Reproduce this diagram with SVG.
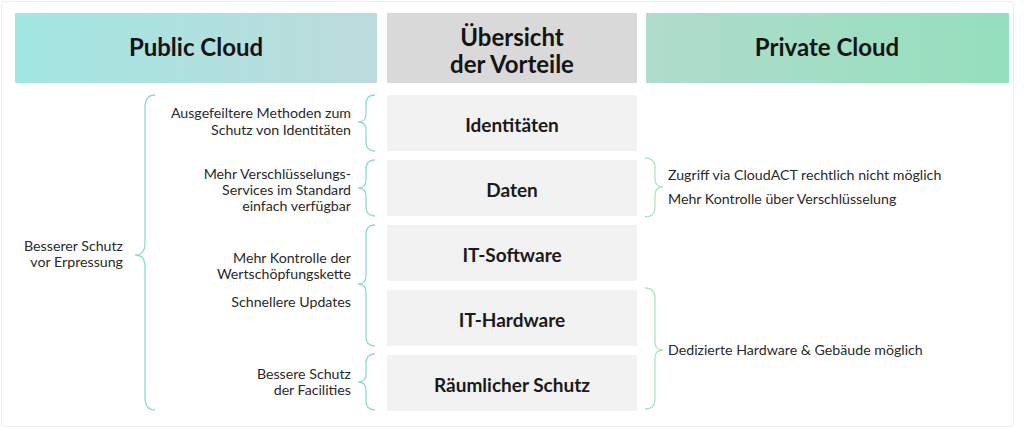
<svg xmlns="http://www.w3.org/2000/svg" width="1024" height="430" viewBox="0 0 1024 430">
  <defs>
    <linearGradient id="gPub" x1="0" y1="0" x2="1" y2="0">
      <stop offset="0" stop-color="#a2e6e2"/>
      <stop offset="1" stop-color="#bddbdc"/>
    </linearGradient>
    <linearGradient id="gPriv" x1="0" y1="0" x2="1" y2="0">
      <stop offset="0" stop-color="#b0dccc"/>
      <stop offset="1" stop-color="#94dfbd"/>
    </linearGradient>
    <style>
      .hdr { font-family: Lato, "Liberation Sans", sans-serif; font-weight: 700; font-size: 24px; fill: #141414; text-anchor: middle; }
      .box { fill: #f2f2f2; }
      .boxt { font-family: Lato, "Liberation Sans", sans-serif; font-weight: 700; font-size: 19px; fill: #1a1a1a; text-anchor: middle; }
      .lt { font-family: Lato, "Liberation Sans", sans-serif; font-size: 14.2px; fill: #2a2a2a; text-anchor: end; }
      .rt { font-family: Lato, "Liberation Sans", sans-serif; font-size: 14.2px; fill: #2a2a2a; text-anchor: start; }
      .bt { fill: none; stroke: #92d9d3; stroke-width: 1.3; }
      .bg { fill: none; stroke: #b3e3c0; stroke-width: 1.3; }
    </style>
  </defs>

  <rect x="0" y="0" width="1024" height="430" fill="#ffffff"/>
  <rect x="1.5" y="1.5" width="1012" height="425" rx="3" fill="#ffffff" stroke="#ededed" stroke-width="1"/>

  <g id="hdr-public">
    <rect x="15" y="13" width="362" height="70" fill="url(#gPub)"/>
    <text class="hdr" x="196" y="56">Public Cloud</text>
  </g>
  <g id="hdr-overview">
    <rect x="387" y="13" width="250" height="70" fill="#d9d9d9"/>
    <text class="hdr" x="512" y="46">Übersicht</text>
    <text class="hdr" x="512" y="73">der Vorteile</text>
  </g>
  <g id="hdr-private">
    <rect x="646" y="13" width="363" height="70" fill="url(#gPriv)"/>
    <text class="hdr" x="827" y="56">Private Cloud</text>
  </g>

  <g id="node-identitaeten">
    <rect class="box" x="387" y="95" width="250" height="56"/>
    <text class="boxt" x="512" y="132">Identitäten</text>
  </g>
  <g id="node-daten">
    <rect class="box" x="387" y="160" width="250" height="56"/>
    <text class="boxt" x="512" y="197">Daten</text>
  </g>
  <g id="node-software">
    <rect class="box" x="387" y="225" width="250" height="56"/>
    <text class="boxt" x="512" y="262">IT-Software</text>
  </g>
  <g id="node-hardware">
    <rect class="box" x="387" y="290" width="250" height="56"/>
    <text class="boxt" x="512" y="327">IT-Hardware</text>
  </g>
  <g id="node-raum">
    <rect class="box" x="387" y="355" width="250" height="56"/>
    <text class="boxt" x="512" y="392">Räumlicher Schutz</text>
  </g>

  <g id="public-labels">
    <text class="lt" x="351" y="118">Ausgefeiltere Methoden zum</text>
    <text class="lt" x="351" y="135">Schutz von Identitäten</text>
    <text class="lt" x="351" y="179">Mehr Verschlüsselungs-</text>
    <text class="lt" x="351" y="195">Services im Standard</text>
    <text class="lt" x="351" y="211">einfach verfügbar</text>
    <text class="lt" x="351" y="263">Mehr Kontrolle der</text>
    <text class="lt" x="351" y="279">Wertschöpfungskette</text>
    <text class="lt" x="351" y="307">Schnellere Updates</text>
    <text class="lt" x="351" y="379">Bessere Schutz</text>
    <text class="lt" x="351" y="395">der Facilities</text>
    <text class="lt" x="123" y="251">Besserer Schutz</text>
    <text class="lt" x="123" y="267">vor Erpressung</text>
  </g>

  <g id="private-labels">
    <text class="rt" x="668" y="180">Zugriff via CloudACT rechtlich nicht möglich</text>
    <text class="rt" x="668" y="204">Mehr Kontrolle über Verschlüsselung</text>
    <text class="rt" x="668" y="355">Dedizierte Hardware &amp; Gebäude möglich</text>
  </g>

  <g id="connectors">
    <path class="bt" d="M155,95 Q145,95 145,108 L145,243 Q145,255 135,255 Q145,255 145,267 L145,397 Q145,410 155,410"/>
    <path class="bt" d="M375,95 Q366,95 366,104 L366,114 Q366,122 358,122 Q366,122 366,130 L366,142 Q366,151 375,151"/>
    <path class="bt" d="M375,160 Q366,160 366,169 L366,180 Q366,188 358,188 Q366,188 366,196 L366,207 Q366,216 375,216"/>
    <path class="bt" d="M375,225 Q366,225 366,234 L366,276 Q366,284 358,284 Q366,284 366,292 L366,337 Q366,346 375,346"/>
    <path class="bt" d="M375,354 Q366,354 366,363 L366,374 Q366,382 358,382 Q366,382 366,390 L366,401 Q366,410 375,410"/>
    <path class="bg" d="M645,158 Q655,158 655,167 L655,179 Q655,187 663,187 Q655,187 655,195 L655,208 Q655,217 645,217"/>
    <path class="bg" d="M645,288 Q655,288 655,298 L655,342 Q655,350 663,350 Q655,350 655,358 L655,399 Q655,409 645,409"/>
  </g>
</svg>
